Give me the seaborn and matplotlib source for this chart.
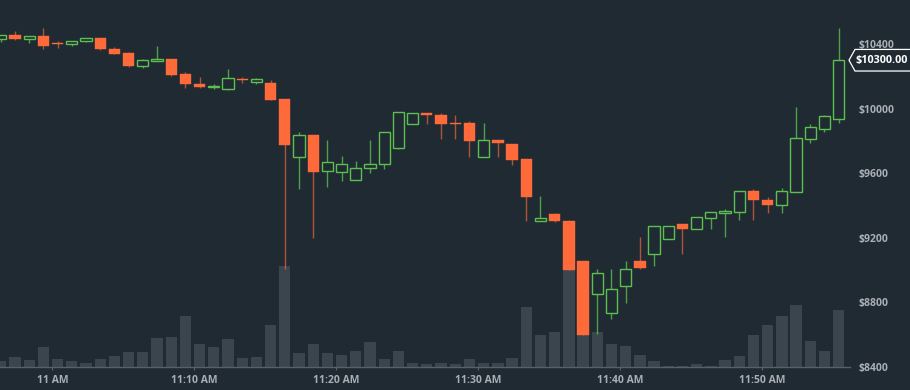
import numpy as np
import pandas as pd
import matplotlib
matplotlib.use("Agg")
import matplotlib.pyplot as plt
import matplotlib.dates as mdates
from matplotlib.patches import Polygon
import seaborn as sns

# ---------------- data ----------------
times = pd.date_range("2018-02-19 10:56:22", periods=60, freq="min")
opens = [10430, 10455, 10430, 10450, 10404, 10398, 10419, 10435, 10369, 10342,
         10262, 10297, 10305, 10216, 10150, 10132, 10123, 10185, 10165, 10160,
         10059, 9702, 9835, 9612, 9606, 9558, 9630, 9655, 9754, 9906,
         9971, 9958, 9911, 9911, 9702, 9804, 9779, 9688, 9306, 9347,
         9306, 9054, 8850, 8734, 8900, 9056, 9102, 9194, 9285, 9256,
         9323, 9352, 9360, 9490, 9432, 9403, 9485, 9814, 9876, 9934]
highs = [10458, 10480, 10452, 10499, 10419, 10422, 10439, 10437, 10383, 10348,
         10307, 10390, 10307, 10227, 10198, 10152, 10245, 10198, 10191, 10177,
         10061, 9857, 9837, 9804, 9706, 9674, 9806, 9857, 9981, 9973,
         9973, 9971, 9960, 9923, 9913, 9806, 9781, 9690, 9461, 9354,
         9308, 9056, 9007, 9007, 9056, 9207, 9273, 9273, 9287, 9329,
         9360, 9376, 9492, 9504, 9453, 9508, 10008, 9903, 9958, 10497]
lows = [10415, 10428, 10408, 10367, 10377, 10390, 10414, 10365, 10336, 10260,
        10253, 10296, 10204, 10129, 10130, 10121, 10117, 10159, 10154, 10053,
        9007, 9504, 9201, 9515, 9554, 9556, 9603, 9624, 9752, 9904,
        9906, 9814, 9812, 9702, 9700, 9702, 9649, 9302, 9304, 9300,
        8999, 8596, 8602, 8699, 8798, 9005, 9025, 9192, 9100, 9253,
        9253, 9207, 9310, 9310, 9355, 9355, 9483, 9785, 9857, 9909]
closes = [10455, 10430, 10450, 10388, 10398, 10420, 10435, 10367, 10338, 10262,
          10301, 10307, 10206, 10154, 10132, 10142, 10190, 10175, 10181, 10055,
          9776, 9835, 9606, 9667, 9655, 9630, 9655, 9855, 9977, 9971,
          9958, 9906, 9903, 9801, 9804, 9789, 9682, 9454, 9321, 9302,
          9001, 8598, 8984, 8883, 9005, 9015, 9271, 9271, 9254, 9327,
          9358, 9364, 9490, 9432, 9401, 9490, 9816, 9884, 9956, 10300]
volumes = [28, 48, 33, 98, 38, 32, 18, 38, 53, 73,
           73, 143, 150, 257, 115, 102, 142, 43, 50, 212,
           503, 70, 115, 68, 60, 78, 125, 38, 80, 20,
           13, 20, 13, 40, 20, 22, 47, 300, 162, 175,
           485, 162, 175, 115, 103, 62, 28, 3, 4, 15,
           5, 33, 55, 160, 210, 255, 310, 132, 80, 285]

price_ticks = [8400, 8800, 9200, 9600, 10000, 10400]
price_labels = ["$8400", "$8800", "$9200", "$9600", "$10000", "$10400"]
time_ticks = pd.date_range("2018-02-19 11:00", periods=6, freq="10min")
time_labels = ["11 AM", "11:10 AM", "11:20 AM", "11:30 AM", "11:40 AM", "11:50 AM"]
last_label = "$10300.00"

# ---------------- style ----------------
BG = "#1f2a33"
GREEN = "#5cbf4f"
ORANGE = "#ff6a3b"
VOLC = "#3a454e"
TXT = "#a9afb5"
sns.set_theme(style="dark", rc={"axes.facecolor": BG, "figure.facecolor": BG})
plt.rcParams["font.family"] = ["Open Sans", "DejaVu Sans"]

df = pd.DataFrame({"time": times, "open": opens, "high": highs,
                   "low": lows, "close": closes, "volume": volumes})
df["x"] = mdates.date2num(df["time"])
df["up"] = df["close"] >= df["open"]
one_min = 1.0 / 1440.0

fig = plt.figure(figsize=(9.1, 3.9), dpi=100)
axv = fig.add_axes([0, 23 / 390, 850 / 910, 367 / 390])
axp = axv.twinx()
axp.patch.set_visible(False)

# volume bars
sns.despine(ax=axv, left=True, right=True, top=True)
axv.bar(df["x"], df["volume"], width=0.8 * one_min, color=VOLC, linewidth=0)
axv.set_ylim(0, max(volumes) * 367 / 100.7)
axv.set_yticks([])

# candles
for up_flag, col in [(True, GREEN), (False, ORANGE)]:
    d = df[df["up"] == up_flag]
    axp.vlines(d["x"], d["low"], d["high"], color=col, alpha=0.65 if not up_flag else 0.8,
               linewidth=1.0, zorder=2)
    bottom = np.minimum(d["open"], d["close"])
    height = np.maximum(np.abs(d["close"] - d["open"]), 4)
    if up_flag:
        axp.bar(d["x"], height, bottom=bottom, width=0.78 * one_min,
                facecolor=BG, edgecolor=col, linewidth=1.0, zorder=3)
    else:
        axp.bar(d["x"], height, bottom=bottom, width=0.8 * one_min,
                facecolor=col, edgecolor=col, linewidth=0.3, zorder=3)

axp.set_ylim(8400, 10673)
axv.set_xlim(df["x"].iloc[0] - 0.056 * one_min, df["x"].iloc[0] + 59.8 * one_min)

# axes cosmetics
for sp in ["left", "top", "right"]:
    axp.spines[sp].set_visible(False)
    axv.spines[sp].set_visible(False)
axp.spines["bottom"].set_visible(False)
axv.spines["bottom"].set_visible(True)
axv.spines["bottom"].set_color("#56616a")
axv.spines["bottom"].set_linewidth(1.0)

axv.set_xticks(mdates.date2num(time_ticks))
axv.set_xticklabels(time_labels)
axv.tick_params(axis="x", bottom=True, length=2.5, width=0.8, color="#56616a",
                pad=3, labelsize=7.5, labelcolor=TXT)
for t in axv.get_xticklabels():
    t.set_fontweight("bold")

axp.set_yticks(price_ticks)
axp.set_yticklabels(price_labels)
axp.tick_params(axis="y", right=True, length=0, pad=6, labelsize=7.5, labelcolor=TXT)
for t in axp.get_yticklabels():
    t.set_fontweight("bold")
axp.grid(False)
axv.grid(False)

# last price label
fig.canvas.draw()
yc = axp.transData.transform((0, closes[-1]))[1]
xl = axv.transAxes.transform((1.0, 0))[0]
h = 10.8
poly = Polygon([[xl - 1, yc], [xl + 5, yc + h], [912, yc + h], [912, yc - h], [xl + 5, yc - h]],
               closed=True, transform=None, facecolor=BG, edgecolor="white", linewidth=0.9)
fig.patches.append(poly)
fig.text((xl + 6) / 910, yc / 390, last_label, color="white", fontsize=7.8,
         fontweight="bold", va="center", ha="left")

fig.savefig("out.png", dpi=100, facecolor=BG)
